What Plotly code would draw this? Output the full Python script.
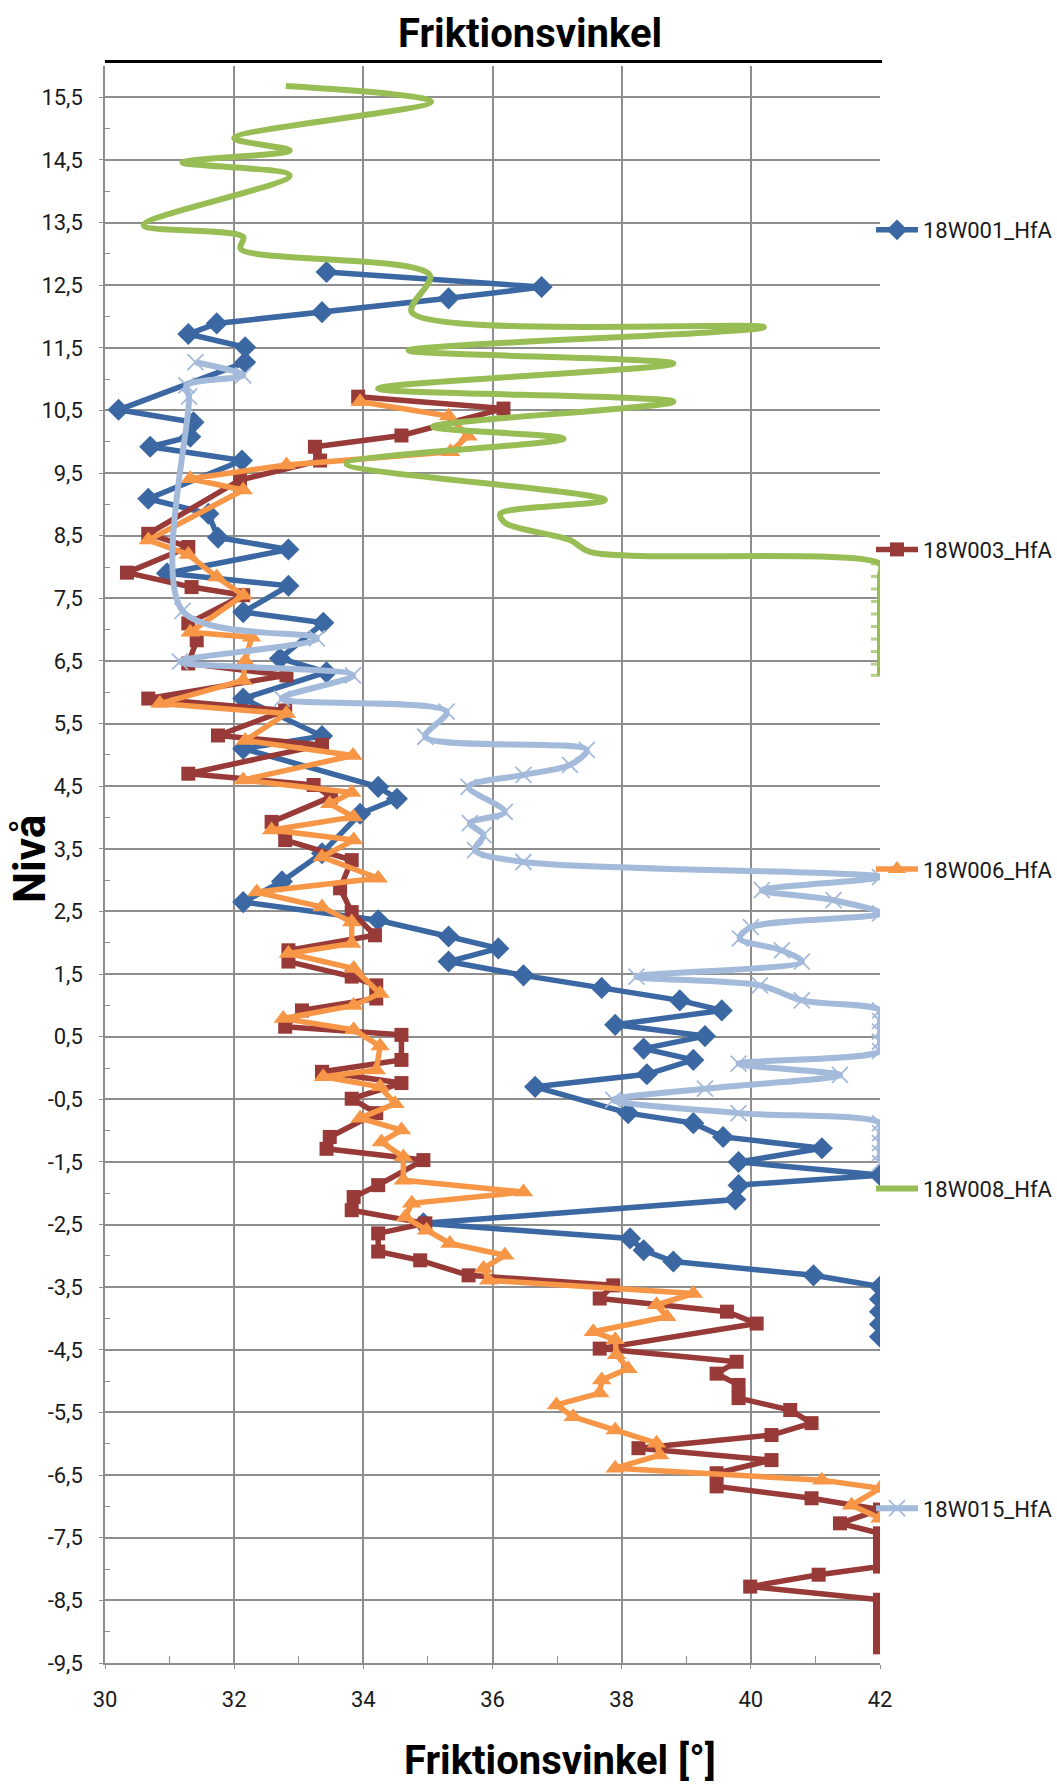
import plotly.graph_objects as go

# ---------------- data ----------------
W001_x = [33.43, 36.76, 35.32, 33.36, 31.73, 31.29, 32.17, 32.17, 30.21, 31.37, 31.32, 30.70,
          32.12, 30.67, 31.60, 31.75, 32.84, 30.96, 32.84, 32.14, 33.38, 32.71, 33.43, 32.14,
          33.36, 32.14, 34.23, 34.52, 33.95, 33.36, 32.74, 32.14, 34.23, 35.32, 36.09, 35.32,
          36.48, 37.69, 38.90, 39.55, 37.90, 39.29, 38.34, 39.11, 38.39, 36.66, 38.10, 39.11,
          39.57, 41.10, 39.81, 42.00, 39.81, 39.76, 34.93, 38.13, 38.34, 38.80, 40.97, 42.00,
          42.00, 42.00, 42.00, 42.00]
W001_y = [12.71, 12.47, 12.29, 12.07, 11.89, 11.72, 11.51, 11.27, 10.51, 10.31, 10.08, 9.92,
          9.70, 9.09, 8.85, 8.47, 8.28, 7.90, 7.70, 7.28, 7.11, 6.54, 6.32, 5.90,
          5.30, 5.10, 4.49, 4.30, 4.06, 3.43, 2.98, 2.65, 2.36, 2.10, 1.91, 1.70,
          1.48, 1.28, 1.08, 0.92, 0.69, 0.51, 0.31, 0.13, -0.10, -0.30, -0.72, -0.88,
          -1.10, -1.28, -1.50, -1.71, -1.87, -2.10, -2.48, -2.72, -2.91, -3.09, -3.31, -3.49,
          -3.69, -3.89, -4.09, -4.29]

W003_x = [33.92, 36.17, 34.59, 33.25, 33.33, 32.09, 30.67, 31.29, 30.34, 31.34, 32.14, 31.29,
          31.42, 31.29, 32.81, 30.67, 32.79, 31.75, 33.36, 31.29, 33.23, 33.50, 32.58, 32.79,
          33.82, 33.64, 33.82, 34.18, 32.84, 32.84, 33.82, 34.20, 34.20, 33.05, 32.79, 34.59,
          34.59, 33.36, 34.59, 33.82, 34.20, 33.48, 33.43, 34.93, 34.23, 33.85, 33.82, 34.96,
          34.23, 34.23, 34.88, 35.63, 37.87, 37.66, 39.63, 40.09, 37.66, 39.78, 39.47, 39.81,
          39.81, 40.61, 40.94, 40.32, 38.26, 40.32, 39.47, 39.47, 40.94, 42.00, 41.38, 42.00,
          42.00, 42.00, 42.00, 41.05, 39.99, 42.00, 42.00, 42.00, 42.00, 42.00, 42.00]
W003_y = [10.72, 10.53, 10.10, 9.92, 9.70, 9.39, 8.53, 8.32, 7.91, 7.68, 7.55, 7.10,
          6.83, 6.46, 6.27, 5.90, 5.71, 5.31, 5.16, 4.70, 4.52, 4.33, 3.93, 3.64,
          3.32, 2.87, 2.49, 2.12, 1.88, 1.70, 1.46, 1.32, 1.11, 0.92, 0.66, 0.53,
          0.13, -0.06, -0.24, -0.49, -0.72, -1.10, -1.29, -1.47, -1.87, -2.06, -2.27, -2.48,
          -2.64, -2.93, -3.07, -3.31, -3.47, -3.68, -3.89, -4.08, -4.48, -4.69, -4.88, -5.06,
          -5.27, -5.46, -5.67, -5.86, -6.07, -6.26, -6.47, -6.68, -6.87, -7.05, -7.27, -7.43,
          -7.60, -7.78, -7.96, -8.09, -8.28, -8.49, -8.65, -8.80, -8.95, -9.10, -9.25]

W006_x = [33.95, 35.32, 35.62, 35.35, 32.81, 31.32, 32.14, 30.67, 31.29, 31.73, 32.14, 31.32,
          32.27, 32.17, 32.14, 30.85, 32.81, 32.17, 33.84, 32.14, 33.82, 33.48, 33.85, 32.58,
          33.85, 33.36, 34.23, 32.35, 33.36, 33.82, 33.82, 32.84, 33.85, 34.26, 33.85, 32.76,
          33.85, 34.26, 34.20, 33.38, 34.26, 34.49, 33.95, 34.59, 34.28, 34.62, 34.62, 36.48,
          34.75, 34.65, 34.98, 35.34, 36.19, 35.86, 35.94, 39.11, 38.54, 38.70, 37.56, 37.90,
          37.92, 38.10, 37.69, 37.66, 36.99, 37.25, 37.90, 38.54, 38.59, 37.90, 41.10, 42.00,
          41.56, 42.00]
W006_y = [10.64, 10.41, 10.09, 9.84, 9.63, 9.41, 9.23, 8.43, 8.20, 7.84, 7.55, 6.96,
          6.88, 6.50, 6.19, 5.82, 5.66, 5.23, 4.99, 4.60, 4.40, 4.22, 4.01, 3.80,
          3.64, 3.37, 3.03, 2.81, 2.57, 2.33, 1.99, 1.83, 1.59, 1.19, 1.00, 0.79,
          0.61, 0.35, -0.03, -0.14, -0.30, -0.57, -0.80, -0.99, -1.18, -1.42, -1.79, -1.98,
          -2.16, -2.38, -2.59, -2.80, -2.99, -3.20, -3.39, -3.60, -3.78, -3.97, -4.21, -4.34,
          -4.58, -4.80, -4.98, -5.19, -5.38, -5.57, -5.78, -5.99, -6.18, -6.39, -6.58, -6.71,
          -6.98, -7.19]

W008_x = [32.80, 35.05, 32.00, 32.86, 31.20, 32.86, 30.60, 32.14, 32.10, 35.03, 34.75, 40.20,
          34.70, 38.80, 34.23, 38.80, 35.08, 37.10, 33.74, 37.74, 36.12, 36.20, 37.20, 37.51,
          42.00, 42.00, 42.00, 42.00, 42.00, 42.00, 42.00, 42.00, 42.00, 42.00]
W008_y = [15.68, 15.43, 14.85, 14.65, 14.46, 14.25, 13.46, 13.27, 13.08, 12.66, 12.07, 11.83,
          11.46, 11.25, 10.85, 10.64, 10.24, 10.05, 9.65, 9.07, 8.85, 8.70, 8.43, 8.24,
          8.05, 7.85, 7.65, 7.45, 7.25, 7.05, 6.85, 6.65, 6.45, 6.27]

W015_x = [31.40, 32.14, 31.26, 31.30, 31.20, 33.28, 31.16, 33.84, 32.74, 35.29, 34.96, 37.46,
          37.20, 36.48, 35.63, 36.19, 35.65, 35.86, 35.73, 36.48, 42.00, 40.17, 41.28, 42.00,
          40.00, 39.83, 40.48, 40.79, 38.23, 40.14, 40.79, 42.00, 42.00, 42.00, 42.00, 42.00,
          39.81, 41.38, 39.29, 37.87, 39.81, 42.00, 42.00, 42.00, 42.00, 42.00]
W015_y = [11.27, 11.06, 10.90, 10.72, 7.30, 6.86, 6.49, 6.27, 5.90, 5.69, 5.29, 5.08,
          4.84, 4.68, 4.49, 4.09, 3.91, 3.72, 3.48, 3.29, 3.05, 2.84, 2.68, 2.47,
          2.25, 2.07, 1.88, 1.70, 1.46, 1.32, 1.08, 0.92, 0.75, 0.58, 0.42, 0.27,
          0.07, -0.11, -0.33, -0.51, -0.72, -0.88, -1.04, -1.20, -1.36, -1.52]

SERIES_NAMES = ["18W001_HfA", "18W003_HfA", "18W006_HfA", "18W008_HfA", "18W015_HfA"]

X_TICKS = [30, 32, 34, 36, 38, 40, 42]
X_MINOR = [31, 33, 35, 37, 39, 41]
Y_TICKS = [15.5, 14.5, 13.5, 12.5, 11.5, 10.5, 9.5, 8.5, 7.5, 6.5, 5.5, 4.5, 3.5, 2.5, 1.5,
           0.5, -0.5, -1.5, -2.5, -3.5, -4.5, -5.5, -6.5, -7.5, -8.5, -9.5]
Y_TICK_TEXT = ["15,5", "14,5", "13,5", "12,5", "11,5", "10,5", "9,5", "8,5", "7,5", "6,5",
               "5,5", "4,5", "3,5", "2,5", "1,5", "0,5", "-0,5", "-1,5", "-2,5", "-3,5",
               "-4,5", "-5,5", "-6,5", "-7,5", "-8,5", "-9,5"]
Y_MINOR = [15, 14, 13, 12, 11, 10, 9, 8, 7, 6, 5, 4, 3, 2, 1, 0, -1, -2, -3, -4, -5, -6,
           -7, -8, -9]

# ---------------- styling ----------------
FONT = "Roboto, Liberation Sans, sans-serif"
BLUE = "#3B67A2"
RED = "#983A37"
ORANGE = "#F79646"
GREEN = "#98BD55"
LIGHT = "#A4BADB"
GRID = "#8E8E8E"

fig = go.Figure()

fig.add_trace(go.Scatter(
    x=W001_x, y=W001_y, name=SERIES_NAMES[0], mode="lines+markers", legendgroup="a",
    line=dict(color=BLUE, width=5.5),
    marker=dict(symbol="diamond", size=17, color=BLUE)))

fig.add_trace(go.Scatter(
    x=W003_x, y=W003_y, name=SERIES_NAMES[1], mode="lines+markers", legendgroup="b",
    line=dict(color=RED, width=5.5),
    marker=dict(symbol="square", size=14, color=RED)))

fig.add_trace(go.Scatter(
    x=W006_x, y=W006_y, name=SERIES_NAMES[2], mode="lines+markers", legendgroup="c",
    line=dict(color=ORANGE, width=5.5),
    marker=dict(symbol="triangle-up", size=17, color=ORANGE)))

green_sizes = [0 if xv < 42 else 13 for xv in W008_x]
fig.add_trace(go.Scatter(
    x=W008_x, y=W008_y, name=SERIES_NAMES[3], mode="lines+markers", legendgroup="d",
    line=dict(color=GREEN, width=6, shape="spline", smoothing=0.9),
    marker=dict(symbol="line-ew", size=green_sizes, color=GREEN,
                line=dict(width=3, color=GREEN))))

fig.add_trace(go.Scatter(
    x=W015_x, y=W015_y, name=SERIES_NAMES[4], mode="lines+markers", legendgroup="e",
    line=dict(color=LIGHT, width=6, shape="spline", smoothing=0.9),
    marker=dict(symbol="x-thin", size=16, color=LIGHT,
                line=dict(width=1.8, color=LIGHT))))

W, H = 1057, 1791
ML, MR, MT, MB = 105, 177, 66, 128
PH = H - MT - MB
PW = W - ML - MR


def px_to_paper_x(px):
    return (px - ML) / PW


def px_to_paper_y(py):
    return (H - MB - py) / PH


fig.update_layout(
    width=W, height=H,
    margin=dict(l=ML, r=MR, t=MT, b=MB, pad=0, autoexpand=False),
    paper_bgcolor="white", plot_bgcolor="white",
    font=dict(family=FONT, color="#1a1a1a", size=22),
    showlegend=True,
    legend=dict(
        x=px_to_paper_x(871), xanchor="left",
        y=px_to_paper_y(209), yanchor="top",
        font=dict(family=FONT, size=22, color="#1a1a1a"),
        itemwidth=42, tracegroupgap=288, bgcolor="rgba(0,0,0,0)",
        borderwidth=0, itemclick=False,
    ),
    xaxis=dict(
        range=[30, 42], tickvals=X_TICKS, ticktext=[str(v) for v in X_TICKS],
        showgrid=True, gridcolor=GRID, gridwidth=1.6,
        showline=True, linecolor=GRID, linewidth=1.6,
        ticks="outside", ticklen=4, tickcolor=GRID, tickwidth=1.4,
        ticklabelstandoff=12,
        tickfont=dict(family=FONT, size=22, color="#1a1a1a"),
        minor=dict(tickvals=X_MINOR, ticks="inside", ticklen=7, tickcolor=GRID,
                   tickwidth=1.4, showgrid=False),
        zeroline=False, automargin=False, fixedrange=True,
    ),
    yaxis=dict(
        range=[-9.5, 16.0], tickvals=Y_TICKS, ticktext=Y_TICK_TEXT,
        showgrid=True, gridcolor=GRID, gridwidth=1.6,
        showline=True, linecolor=GRID, linewidth=1.6,
        ticks="outside", ticklen=4, tickcolor=GRID, tickwidth=1.4,
        ticklabelstandoff=12,
        tickfont=dict(family=FONT, size=22, color="#1a1a1a"),
        minor=dict(tickvals=Y_MINOR, ticks="inside", ticklen=5, tickcolor=GRID,
                   tickwidth=1.4, showgrid=False),
        zeroline=False, automargin=False, fixedrange=True,
    ),
    shapes=[
        dict(type="line", xref="paper", yref="paper",
             x0=0, x1=px_to_paper_x(882), y0=px_to_paper_y(61.5), y1=px_to_paper_y(61.5),
             line=dict(color="black", width=3)),
    ],
    annotations=[
        dict(text="<b>Friktionsvinkel</b>", xref="paper", yref="paper",
             x=px_to_paper_x(530), y=px_to_paper_y(34), xanchor="center", yanchor="middle",
             showarrow=False, font=dict(family=FONT, size=40, color="black")),
        dict(text="<b>Friktionsvinkel [°]</b>", xref="paper", yref="paper",
             x=px_to_paper_x(560), y=px_to_paper_y(1760), xanchor="center", yanchor="middle",
             showarrow=False, font=dict(family=FONT, size=40, color="black")),
        dict(text="<b>Nivå</b>", xref="paper", yref="paper", textangle=-90,
             x=px_to_paper_x(30), y=px_to_paper_y(859), xanchor="center", yanchor="middle",
             showarrow=False, font=dict(family=FONT, size=44, color="black")),
    ],
)

fig.write_html("out.html")
